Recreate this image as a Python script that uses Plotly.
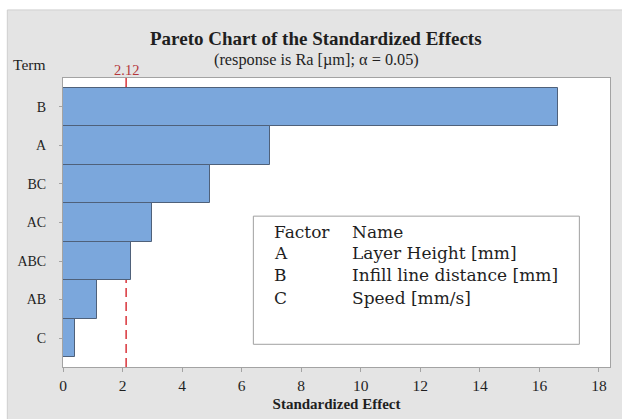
import plotly.graph_objects as go

# Data
terms = ["B", "A", "BC", "AC", "ABC", "AB", "C"]
effects = [16.63, 6.95, 4.94, 2.99, 2.27, 1.14, 0.40]
critical_value = 2.12
x_ticks = [0, 2, 4, 6, 8, 10, 12, 14, 16, 18]
factor_codes = ["A", "B", "C"]
factor_names = ["Layer Height [mm]", "Infill line distance [mm]", "Speed [mm/s]"]

SERIF = "Liberation Serif"
BOX_FONT = "DejaVu Serif"
GRAY_BG = "#e4e4e4"
AXIS_GRAY = "#a3a3a3"
TXT = "#1f1f1f"

fig = go.Figure()
fig.add_trace(go.Bar(
    y=terms, x=effects, orientation="h",
    width=1.0,
    marker=dict(color="#7ba7dc", line=dict(color="#4f617a", width=1)),
    hoverinfo="x+y",
))

shapes = [
    # gray panel background
    dict(type="rect", xref="paper", yref="paper", x0=-0.1018, x1=1.2, y0=-0.5, y1=1.2355,
         fillcolor=GRAY_BG, line=dict(color="#cfcfcf", width=1), layer="below"),
    # white plot area
    dict(type="rect", xref="paper", yref="paper", x0=0, x1=1, y0=0, y1=1,
         fillcolor="white", line=dict(width=0), layer="below"),
    # reference line (dashed)
    dict(type="line", xref="x", yref="paper", x0=critical_value, x1=critical_value, y0=0, y1=0.97,
         line=dict(color="#d9343a", width=1.5, dash="9px,5px"), layer="below"),
    dict(type="line", xref="x", yref="paper", x0=critical_value, x1=critical_value, y0=0.96, y1=1.0,
         line=dict(color="#d9343a", width=1.5), layer="below"),
    # factor box
    dict(type="rect", xref="paper", yref="paper", x0=0.348, x1=0.944, y0=0.0786, y1=0.522,
         fillcolor="white", line=dict(color="#a0a0a0", width=1), layer="above"),
]

annotations = [
    dict(text="<b>Pareto Chart of the Standardized Effects</b>", xref="paper", yref="paper",
         x=0.463, y=1.135, showarrow=False, xanchor="center", yanchor="middle",
         font=dict(family=SERIF, size=19, color=TXT)),
    dict(text="(response is Ra [µm]; α = 0.05)", xref="paper", yref="paper",
         x=0.464, y=1.064, showarrow=False, xanchor="center", yanchor="middle",
         font=dict(family=SERIF, size=16.3, color=TXT)),
    dict(text="Term", xref="paper", yref="paper", x=-0.0616, y=1.048, showarrow=False,
         xanchor="center", yanchor="middle", font=dict(family=SERIF, size=15.5, color=TXT)),
    dict(text=f"{critical_value:.2f}", xref="x", yref="paper", x=critical_value, y=1.028,
         showarrow=False, xanchor="center", yanchor="middle",
         font=dict(family=SERIF, size=14.5, color="#b5373b")),
    dict(text="Factor", xref="paper", yref="paper", x=0.3826, y=0.4666, showarrow=False,
         xanchor="left", yanchor="middle", font=dict(family=BOX_FONT, size=17, color=TXT)),
    dict(text="Name", xref="paper", yref="paper", x=0.5252, y=0.4666, showarrow=False,
         xanchor="left", yanchor="middle", font=dict(family=BOX_FONT, size=17, color=TXT)),
]
row_y = [0.3938, 0.3176, 0.238]
for code, name, yy in zip(factor_codes, factor_names, row_y):
    annotations.append(dict(text=code, xref="paper", yref="paper", x=0.3826, y=yy, showarrow=False,
                            xanchor="left", yanchor="middle",
                            font=dict(family=BOX_FONT, size=17, color=TXT)))
    annotations.append(dict(text=name, xref="paper", yref="paper", x=0.5252, y=yy, showarrow=False,
                            xanchor="left", yanchor="middle",
                            font=dict(family=BOX_FONT, size=17, color=TXT)))

fig.update_layout(
    width=622, height=419,
    margin=dict(l=63, r=12, t=78, b=52),
    paper_bgcolor="white", plot_bgcolor="white",
    showlegend=False, bargap=0,
    shapes=shapes, annotations=annotations,
    xaxis=dict(range=[0, 18.37], tickvals=x_ticks, ticks="outside", ticklen=4,
               tickcolor=AXIS_GRAY, showline=True, mirror=True, linecolor=AXIS_GRAY,
               linewidth=1, showgrid=False, zeroline=False, automargin=False,
               tickfont=dict(family=SERIF, size=15.5, color=TXT),
               title=dict(text="<b>Standardized Effect</b>", standoff=5,
                          font=dict(family=SERIF, size=15, color=TXT))),
    yaxis=dict(type="category", categoryorder="array", categoryarray=terms[::-1],
               range=[-0.75, 6.75], ticks="outside", ticklen=3, tickcolor=AXIS_GRAY,
               showline=True, mirror=True, linecolor=AXIS_GRAY, linewidth=1,
               showgrid=False, zeroline=False, ticklabelstandoff=10, automargin=False,
               tickfont=dict(family=SERIF, size=14, color=TXT)),
)

fig.write_html(
    "out.html",
    config={"displayModeBar": False},
    post_script="document.body.style.margin='0';document.body.style.padding='0';"
                "document.body.style.overflow='hidden';",
)
